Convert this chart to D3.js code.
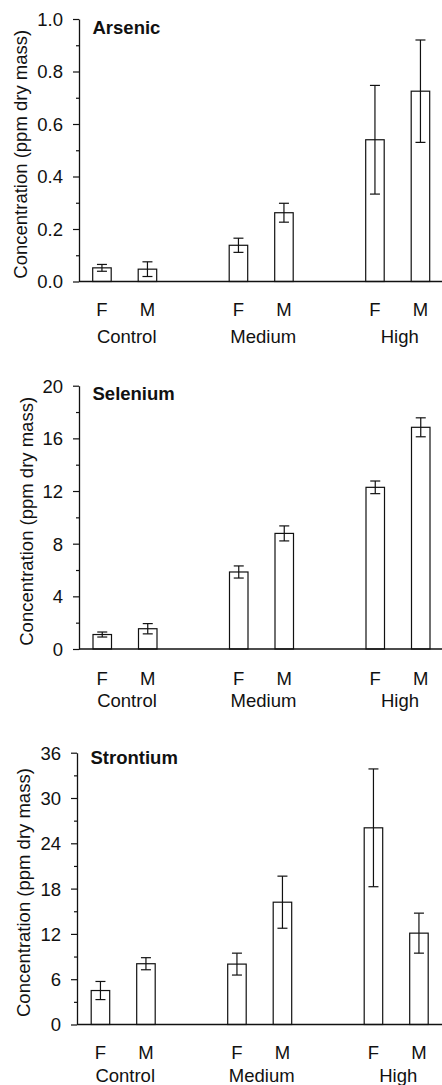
<!DOCTYPE html>
<html>
<head>
<meta charset="utf-8">
<script src="https://cdn.jsdelivr.net/npm/d3@7"></script>
<style>
  html, body { margin: 0; padding: 0; background: #fff; }
  svg { display: block; }
  text { font-family: "Liberation Sans", Arial, Helvetica, sans-serif; fill: #111; }
</style>
</head>
<body>
<script>
// categories
const groups = ["Control", "Medium", "High"];
const sexes = ["F", "M"];

// means and standard errors, order: Control F, Control M, Medium F, Medium M, High F, High M
const arsenicMean = [0.052, 0.047, 0.138, 0.262, 0.540, 0.725];
const arsenicErr = [0.013, 0.028, 0.027, 0.036, 0.207, 0.195];
const seleniumMean = [1.10, 1.54, 5.85, 8.78, 12.28, 16.84];
const seleniumErr = [0.19, 0.39, 0.46, 0.57, 0.48, 0.72];
const strontiumMean = [4.5, 8.05, 8.0, 16.2, 26.05, 12.1];
const strontiumErr = [1.2, 0.8, 1.45, 3.45, 7.8, 2.65];

// y axis ticks
const arsenicTicks = [0, 0.2, 0.4, 0.6, 0.8, 1.0];
const arsenicMinor = [0.1, 0.3, 0.5, 0.7, 0.9];
const seleniumTicks = [0, 4, 8, 12, 16, 20];
const seleniumMinor = [2, 6, 10, 14, 18];
const strontiumTicks = [0, 6, 12, 18, 24, 30, 36];
const strontiumMinor = [3, 9, 15, 21, 27, 33];

const yLabel = "Concentration (ppm dry mass)";

const width = 442;
const height = 1085;

const svg = d3.select("body").append("svg")
	.attr("width", width)
	.attr("height", height);

//layout of each panel (pixel positions only, no data)
const panels = [
	{name: "Arsenic", mean: arsenicMean, err: arsenicErr, ticks: arsenicTicks, minor: arsenicMinor,
		fmt: d3.format(".1f"), axisX: 79, top: 19, bottom: 281.5, shift: 0,
		titleX: 92.5, titleY: 33.5, sexY: 316, groupY: 342.5, labelX: 26.5},
	{name: "Selenium", mean: seleniumMean, err: seleniumErr, ticks: seleniumTicks, minor: seleniumMinor,
		fmt: d3.format("d"), axisX: 79, top: 385.7, bottom: 649, shift: 0.3,
		titleX: 92.5, titleY: 400, sexY: 685, groupY: 707, labelX: 32.5},
	{name: "Strontium", mean: strontiumMean, err: strontiumErr, ticks: strontiumTicks, minor: strontiumMinor,
		fmt: d3.format("d"), axisX: 77, top: 752.7, bottom: 1024.5, shift: -1.5,
		titleX: 90.5, titleY: 763.5, sexY: 1059, groupY: 1081.5, labelX: 30}
];

const barWidth = 18.5;
const capHalf = 5;
const fontSize = 18.5;

panels.forEach(p => {
	const g = svg.append("g");

	//x: group centres, then F/M offset within a group
	const xGroup = d3.scalePoint().domain(groups).range([124.7 + p.shift, 397.7 + p.shift]);
	const xSex = d3.scalePoint().domain(sexes).range([-22.75, 22.75]);

	const y = d3.scaleLinear()
		.domain([0, d3.max(p.ticks)])
		.range([p.bottom, p.top]);

	const rows = [];
	groups.forEach((grp, i) => {
		sexes.forEach((s, j) => {
			const k = i * sexes.length + j;
			rows.push({grp: grp, sex: s, mean: p.mean[k], err: p.err[k], cx: xGroup(grp) + xSex(s)});
		});
	});

	// minor ticks
	g.append("g")
		.attr("transform", `translate(${p.axisX},0)`)
		.call(d3.axisLeft(y).tickValues(p.minor).tickSize(3).tickFormat(""))
		.call(a => a.select(".domain").remove())
		.call(a => a.selectAll("line").attr("stroke", "#111").attr("stroke-width", 1.2));

	// major ticks and axis line
	const yAxis = g.append("g")
		.attr("transform", `translate(${p.axisX},0)`)
		.call(d3.axisLeft(y).tickValues(p.ticks).tickSize(6).tickSizeOuter(0).tickPadding(10).tickFormat(p.fmt));
	yAxis.select(".domain").attr("stroke", "#111").attr("stroke-width", 1.3);
	yAxis.selectAll("line").attr("stroke", "#111").attr("stroke-width", 1.2);
	yAxis.selectAll("text")
		.attr("font-size", fontSize)
		.attr("font-family", null)
		.attr("fill", "#111")
		.attr("dy", "0.35em");

	// bars
	g.append("g").selectAll("rect")
		.data(rows)
		.join("rect")
		.attr("x", d => d.cx - barWidth / 2)
		.attr("y", d => y(d.mean))
		.attr("width", barWidth)
		.attr("height", d => y(0) - y(d.mean))
		.attr("fill", "#fff")
		.attr("stroke", "#111")
		.attr("stroke-width", 1.2);

	// error bars
	const eb = g.append("g").attr("stroke", "#111").attr("stroke-width", 1.2);
	eb.selectAll("line.v")
		.data(rows)
		.join("line")
		.attr("class", "v")
		.attr("x1", d => d.cx).attr("x2", d => d.cx)
		.attr("y1", d => y(d.mean + d.err))
		.attr("y2", d => y(d.mean - d.err));
	eb.selectAll("line.hi")
		.data(rows)
		.join("line")
		.attr("class", "hi")
		.attr("x1", d => d.cx - capHalf).attr("x2", d => d.cx + capHalf)
		.attr("y1", d => y(d.mean + d.err)).attr("y2", d => y(d.mean + d.err));
	eb.selectAll("line.lo")
		.data(rows)
		.join("line")
		.attr("class", "lo")
		.attr("x1", d => d.cx - capHalf).attr("x2", d => d.cx + capHalf)
		.attr("y1", d => y(d.mean - d.err)).attr("y2", d => y(d.mean - d.err));

	// baseline across the full width
	g.append("line")
		.attr("x1", p.axisX).attr("x2", width)
		.attr("y1", y(0)).attr("y2", y(0))
		.attr("stroke", "#111")
		.attr("stroke-width", 1.3);

	// F / M labels
	g.append("g").selectAll("text")
		.data(rows)
		.join("text")
		.attr("x", d => d.cx)
		.attr("y", p.sexY)
		.attr("text-anchor", "middle")
		.attr("font-size", fontSize)
		.text(d => d.sex);

	// group labels
	g.append("g").selectAll("text")
		.data(groups)
		.join("text")
		.attr("x", d => xGroup(d) + 2)
		.attr("y", p.groupY)
		.attr("text-anchor", "middle")
		.attr("font-size", fontSize)
		.text(d => d);

	// panel title
	g.append("text")
		.attr("x", p.titleX)
		.attr("y", p.titleY)
		.attr("font-size", 18.5)
		.attr("font-weight", "bold")
		.text(p.name);

	// y label
	g.append("text")
		.attr("transform", `translate(${p.labelX},${(p.top + p.bottom) / 2 + 4}) rotate(-90)`)
		.attr("text-anchor", "middle")
		.attr("font-size", 18.5)
		.text(yLabel);
});
</script>
</body>
</html>
